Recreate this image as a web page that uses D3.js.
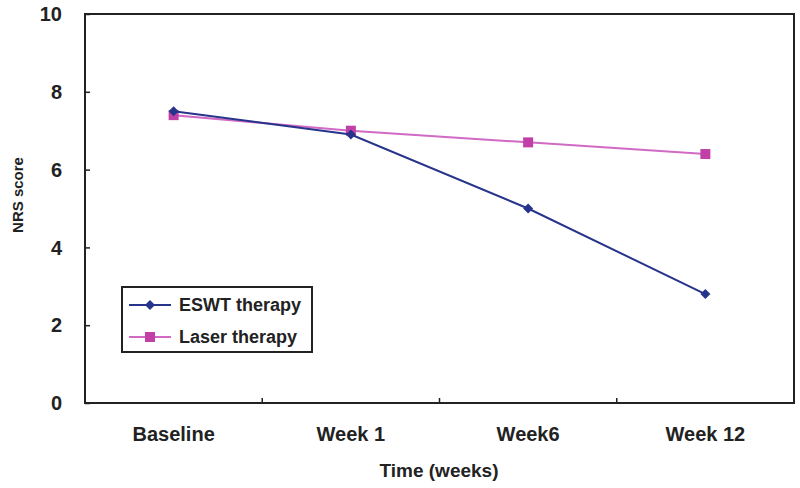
<!DOCTYPE html>
<html><head><meta charset="utf-8">
<script src="https://cdn.jsdelivr.net/npm/d3@7"></script>
<style>body{margin:0;background:#fff}svg{display:block}text{font-family:"Liberation Sans",Arial,sans-serif;font-weight:bold;fill:#222}</style>
</head><body>
<svg id="c" width="800" height="488"></svg>
<script>
const categories = ["Baseline","Week 1","Week6","Week 12"];
const eswt = [7.5, 6.9, 5.0, 2.8];
const laser = [7.4, 7.0, 6.7, 6.4];
const yTicks = [0,2,4,6,8,10];
const seriesNames = ["ESWT therapy","Laser therapy"];

const svg = d3.select("#c");
const m = {l:85, r:794, t:14, b:403};
const x = d3.scaleBand().domain(categories).range([m.l, m.r]);
const y = d3.scaleLinear().domain([0,10]).range([m.b, m.t]);

svg.append("rect").attr("x",m.l).attr("y",m.t).attr("width",m.r-m.l).attr("height",m.b-m.t)
  .attr("fill","none").attr("stroke","#222").attr("stroke-width",2);

const ya = svg.append("g").attr("transform",`translate(${m.l},0)`)
  .call(d3.axisRight(y).tickValues(yTicks).tickSize(5).tickFormat(""));
ya.select(".domain").remove();
ya.selectAll("line").attr("stroke","#222").attr("stroke-width",1.5);
svg.selectAll(".ylab").data(yTicks).join("text").attr("class","ylab")
  .attr("x",62).attr("y",d=>y(d)).attr("dy","0.36em").attr("text-anchor","end")
  .attr("font-size",20).text(d=>d);

const bounds = categories.slice(1).map(c=>x(c));
svg.selectAll(".xt").data(bounds).join("line").attr("class","xt")
  .attr("x1",d=>d).attr("x2",d=>d).attr("y1",m.b).attr("y2",m.b-5)
  .attr("stroke","#222").attr("stroke-width",1.5);
svg.selectAll(".xlab").data(categories).join("text").attr("class","xlab")
  .attr("x",d=>x(d)+x.bandwidth()/2).attr("y",441).attr("text-anchor","middle")
  .attr("font-size",20).text(d=>d);

svg.append("text").attr("x",439).attr("y",477).attr("text-anchor","middle")
  .attr("font-size",19).text("Time (weeks)");
svg.append("text").attr("transform","translate(23,195) rotate(-90)").attr("text-anchor","middle")
  .attr("font-size",15).text("NRS score");

const cx = d=>x(d)+x.bandwidth()/2;
const line = d3.line().x((d,i)=>cx(categories[i])).y(d=>y(d));
const cE = "#27348b", cL = "#d06ac4", mL = "#c040a8";

svg.append("path").datum(laser).attr("d",line).attr("fill","none").attr("stroke",cL).attr("stroke-width",2);
svg.selectAll(".ml").data(laser).join("rect").attr("class","ml")
  .attr("x",(d,i)=>cx(categories[i])-5).attr("y",d=>y(d)-5).attr("width",10).attr("height",10).attr("fill",mL);
svg.append("path").datum(eswt).attr("d",line).attr("fill","none").attr("stroke",cE).attr("stroke-width",2);
const diamond = d3.symbol().type(d3.symbolSquare).size(50);
svg.selectAll(".me").data(eswt).join("path").attr("class","me")
  .attr("transform",(d,i)=>`translate(${cx(categories[i])},${y(d)}) rotate(45)`).attr("d",diamond).attr("fill",cE);

const lg = svg.append("g");
lg.append("rect").attr("x",122).attr("y",287).attr("width",190).attr("height",65)
  .attr("fill","#fff").attr("stroke","#222").attr("stroke-width",2);
const lc = [cE,cL];
seriesNames.forEach((n,i)=>{
  const yy = 305 + i*32;
  lg.append("line").attr("x1",129).attr("x2",171).attr("y1",yy).attr("y2",yy).attr("stroke",lc[i]).attr("stroke-width",2);
  if(i===0) lg.append("path").attr("transform",`translate(150,${yy}) rotate(45)`).attr("d",diamond).attr("fill",cE);
  else lg.append("rect").attr("x",145).attr("y",yy-5).attr("width",10).attr("height",10).attr("fill",mL);
  lg.append("text").attr("x",179).attr("y",yy).attr("dy","0.36em").attr("font-size",18).text(n);
});
</script>
</body></html>
